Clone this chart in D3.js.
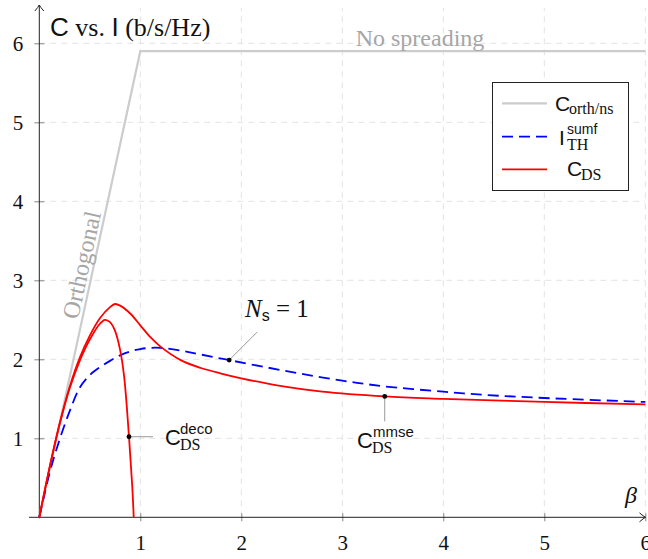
<html>
<head>
<meta charset="utf-8">
<style>
  body { margin: 0; background: #fff; }
  .serif { font-family: "Liberation Serif", "DejaVu Serif", serif; }
  .sans { font-family: "Liberation Sans", "DejaVu Sans", sans-serif; }
</style>
</head>
<body>
<svg id="mainSvg" width="648" height="559"></svg>
<script src="https://d3js.org/d3.v7.min.js"></script>
<script>
// ---- data ----
const xTicks = [1, 2, 3, 4, 5, 6]
const yTicks = [1, 2, 3, 4, 5, 6]

const betaOrth = [0, 1, 6]
const cOrth = [0, 5.9, 5.9]

const betaSumf = [0, 0.1, 0.2, 0.3, 0.4, 0.5, 0.6, 0.7, 0.8, 0.9, 1.0, 1.1, 1.2, 1.4, 1.6, 1.88, 2.2, 2.58, 3.0, 3.4, 4.0, 4.4, 5.0, 6.0]
const iSumf = [0, 0.55, 0.98, 1.34, 1.64, 1.80, 1.90, 1.98, 2.05, 2.10, 2.13, 2.145, 2.145, 2.11, 2.06, 1.99, 1.91, 1.82, 1.73, 1.66, 1.59, 1.55, 1.51, 1.46]

const betaMmse = [0, 0.1, 0.2, 0.3, 0.4, 0.5, 0.6, 0.7, 0.75, 0.8, 0.9, 1.0, 1.1, 1.2, 1.4, 1.6, 1.8, 2.0, 2.4, 2.8, 3.42, 4.0, 5.0, 6.0]
const cMmse = [0, 0.62, 1.18, 1.65, 2.02, 2.30, 2.52, 2.66, 2.70, 2.68, 2.58, 2.43, 2.28, 2.16, 1.99, 1.89, 1.82, 1.76, 1.66, 1.59, 1.53, 1.50, 1.46, 1.43]

const betaDeco = [0, 0.1, 0.2, 0.3, 0.4, 0.5, 0.6, 0.65, 0.7, 0.75, 0.8, 0.84, 0.888, 0.92, 0.935]
const cDeco = [0, 0.62, 1.17, 1.63, 1.98, 2.25, 2.45, 2.50, 2.47, 2.36, 2.12, 1.78, 1.02, 0.40, 0]

const markBeta = [0.888, 1.88, 3.42]
const markC = [1.02, 1.99, 1.53]

const svg = d3.select('#mainSvg')
const x = d3.scaleLinear().domain([0, 6]).range([39.3, 645.3])
const y = d3.scaleLinear().domain([0, 6]).range([517.3, 43.3])

const toPts = (xs, ys) => xs.map((b, i) => [b, ys[i]])
const line = d3.line().x(d => x(d[0])).y(d => y(d[1]))
const smooth = d3.line().x(d => x(d[0])).y(d => y(d[1])).curve(d3.curveCatmullRom.alpha(0.5))

// arrow marker
svg.append('defs').append('marker')
  .attr('id', 'arr').attr('viewBox', '-8 -6 10 12')
  .attr('markerWidth', 10).attr('markerHeight', 12)
  .attr('markerUnits', 'userSpaceOnUse')
  .attr('refX', 0).attr('refY', 0).attr('orient', 'auto')
  .append('path').attr('d', 'M-6,-4.5 Q-2,-1 0,0 Q-2,1 -6,4.5')
  .attr('fill', 'none').attr('stroke', '#222').attr('stroke-width', 1)

// grid
const grid = svg.append('g').attr('stroke', '#e3e3e3').attr('stroke-dasharray', '6,5').attr('stroke-width', 1)
grid.selectAll('.gx').data(xTicks).join('line')
  .attr('x1', d => x(d)).attr('x2', d => x(d)).attr('y1', y(0)).attr('y2', 8)
grid.selectAll('.gy').data(yTicks).join('line')
  .attr('x1', x(0)).attr('x2', 645).attr('y1', d => y(d)).attr('y2', d => y(d))

// axes
const xAxis = svg.append('g').attr('transform', `translate(0,${y(0)})`)
  .call(d3.axisBottom(x).tickValues(xTicks).tickSize(4).tickFormat(d3.format('d')))
const yAxis = svg.append('g').attr('transform', `translate(${x(0)},0)`)
  .call(d3.axisLeft(y).tickValues(yTicks).tickSize(4).tickFormat(d3.format('d')))
;[xAxis, yAxis].forEach(a => {
  a.select('.domain').remove()
  a.selectAll('.tick line').attr('stroke', '#888')
  a.selectAll('.tick text').attr('class', 'serif').attr('font-size', 21).attr('fill', '#111')
})
xAxis.selectAll('.tick line').attr('y1', -4).attr('y2', 4)
xAxis.selectAll('.tick text').attr('y', 18)
yAxis.selectAll('.tick line').attr('x1', -5).attr('x2', 5)
yAxis.selectAll('.tick text').attr('x', -16)

svg.append('line').attr('x1', 29).attr('x2', 645.5).attr('y1', y(0)).attr('y2', y(0))
  .attr('stroke', '#222').attr('stroke-width', 1).attr('marker-end', 'url(#arr)')
svg.append('line').attr('x1', x(0)).attr('x2', x(0)).attr('y1', y(0) + 1).attr('y2', 5)
  .attr('stroke', '#222').attr('stroke-width', 1).attr('marker-end', 'url(#arr)')

// curves
svg.append('path').datum(toPts(betaOrth, cOrth)).attr('d', line)
  .attr('fill', 'none').attr('stroke', '#cccccc').attr('stroke-width', 2.2)
svg.append('path').datum(toPts(betaSumf, iSumf)).attr('d', smooth)
  .attr('fill', 'none').attr('stroke', '#0000ff').attr('stroke-width', 1.8).attr('stroke-dasharray', '11,6')
svg.append('path').datum(toPts(betaMmse, cMmse)).attr('d', smooth)
  .attr('fill', 'none').attr('stroke', '#ff0000').attr('stroke-width', 1.8)
svg.append('path').datum(toPts(betaDeco, cDeco)).attr('d', smooth)
  .attr('fill', 'none').attr('stroke', '#ff0000').attr('stroke-width', 1.8)

// annotation leaders
const pts = toPts(markBeta, markC)
const lead = svg.append('g').attr('stroke', '#999').attr('stroke-width', 1)
lead.append('line').attr('x1', x(pts[0][0])).attr('y1', y(pts[0][1])).attr('x2', x(pts[0][0]) + 24).attr('y2', y(pts[0][1]))
lead.append('line').attr('x1', x(pts[1][0])).attr('y1', y(pts[1][1])).attr('x2', x(pts[1][0]) + 28).attr('y2', y(pts[1][1]) - 28)
lead.append('line').attr('x1', x(pts[2][0])).attr('y1', y(pts[2][1])).attr('x2', x(pts[2][0])).attr('y2', y(pts[2][1]) + 25)
svg.selectAll('.dot').data(pts).join('circle')
  .attr('cx', d => x(d[0])).attr('cy', d => y(d[1])).attr('r', 2.4).attr('fill', '#000')

// text helper
function txt(px, py, s, cls, size, opts = {}) {
  const t = svg.append('text').attr('x', px).attr('y', py).attr('class', cls)
    .attr('font-size', size).attr('fill', opts.fill || '#111').text(s)
  if (opts.anchor) t.attr('text-anchor', opts.anchor)
  if (opts.italic) t.attr('font-style', 'italic')
  return t
}

// title
const title = svg.append('text').attr('x', 50).attr('y', 36).attr('font-size', 26).attr('fill', '#111')
title.append('tspan').attr('class', 'sans').text('C')
title.append('tspan').attr('class', 'serif').text(' vs. ')
title.append('tspan').attr('class', 'sans').text('I')
title.append('tspan').attr('class', 'serif').text(' (b/s/Hz)')

txt(420, 46, 'No spreading', 'serif', 24, { fill: '#a6a6a6', anchor: 'middle' })
txt(0, 0, 'Orthogonal', 'serif', 24, { fill: '#a6a6a6' })
  .attr('transform', `translate(78,320) rotate(-77.8)`)
txt(637, 503, 'β', 'serif', 24, { italic: true, anchor: 'end' })

// labels on marks
txt(165, 445, 'C', 'sans', 22)
txt(180, 434, 'deco', 'sans', 15)
txt(180, 450, 'DS', 'serif', 16)

txt(357, 448, 'C', 'sans', 22)
txt(373, 437, 'mmse', 'sans', 15)
txt(372, 453, 'DS', 'serif', 16)

const ns = svg.append('text').attr('x', 245).attr('y', 317).attr('class', 'serif').attr('font-size', 25).attr('fill', '#111')
ns.append('tspan').attr('font-style', 'italic').text('N')
ns.append('tspan').attr('class', 'sans').attr('font-size', 16).attr('dy', 4).text('s')
ns.append('tspan').attr('dy', -4).text(' = 1')

// legend
const legNames = ['orth', 'sumf', 'ds']
const legY = [103.3, 136.7, 169.3]
const legStroke = ['#cccccc', '#0000ff', '#ff0000']
const legDash = [null, '11,6', null]
svg.append('rect').attr('x', 492.5).attr('y', 82.5).attr('width', 136).attr('height', 108)
  .attr('fill', '#fff').attr('stroke', '#222').attr('stroke-width', 1)
svg.selectAll('.legline').data(legNames).join('line')
  .attr('x1', 502).attr('x2', 547).attr('y1', (d, i) => legY[i]).attr('y2', (d, i) => legY[i])
  .attr('stroke', (d, i) => legStroke[i]).attr('stroke-width', (d, i) => i === 0 ? 2.2 : 1.8)
  .attr('stroke-dasharray', (d, i) => legDash[i])

txt(555, 110.7, 'C', 'sans', 21)
txt(569, 114, 'orth/ns', 'serif', 16)
txt(559, 145, 'I', 'sans', 21)
txt(567, 134, 'sumf', 'sans', 14)
txt(567, 150, 'TH', 'serif', 16)
txt(567, 176, 'C', 'sans', 21)
txt(581, 179.5, 'DS', 'serif', 16)
</script>
</body>
</html>
